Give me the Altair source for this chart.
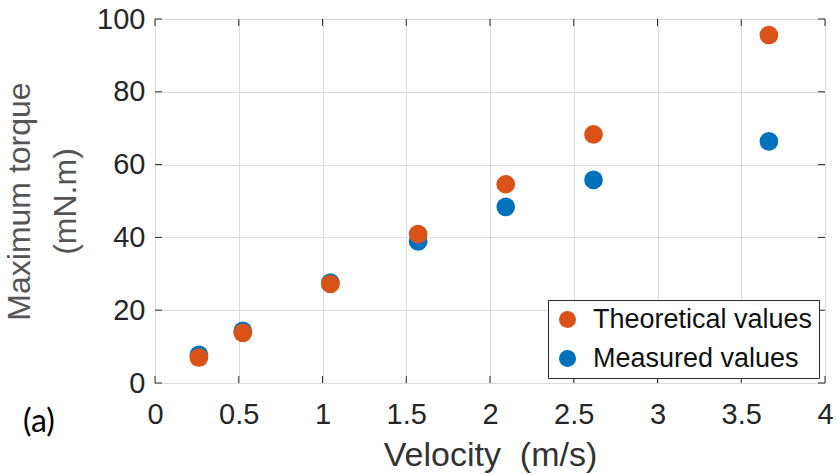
import altair as alt
import pandas as pd

velocity = [0.262, 0.524, 1.047, 1.571, 2.094, 2.618, 3.665]
theoretical = [7.0, 13.8, 27.2, 40.9, 54.6, 68.3, 95.6]
measured = [7.7, 14.3, 27.6, 38.9, 48.4, 55.8, 66.4]
series_names = ["Theoretical values", "Measured values"]
series_colors = ["#D95319", "#0072BD"]
x_ticks = [0, 0.5, 1, 1.5, 2, 2.5, 3, 3.5, 4]
y_ticks = [0, 20, 40, 60, 80, 100]

W, H = 670, 364
FRAME = "#2b2b2b"

rows = []
for v, m in zip(velocity, measured):
    rows.append({"v": v, "t": m, "series": series_names[1], "o": 0})
for v, t in zip(velocity, theoretical):
    rows.append({"v": v, "t": t, "series": series_names[0], "o": 1})
df = pd.DataFrame(rows)

xs = alt.Scale(domain=[0, 4], nice=False, zero=False)
ys = alt.Scale(domain=[0, 100], nice=False, zero=False)

points = alt.Chart(df).mark_circle(size=350, opacity=1).encode(
    x=alt.X("v:Q", scale=xs, axis=alt.Axis(
        values=x_ticks, format="~g", title="Velocity \u00a0(m/s)", grid=True, gridColor="#dcdcdc",
        domain=False, ticks=False, tickSize=0, labelPadding=17,
        labelFontSize=29, labelColor="#262626", labelFont="Liberation Sans",
        labelFlush=False, labelOverlap=False,
        titleFontSize=34, titleFont="Liberation Sans", titleFontWeight="normal",
        titleColor="#333333", titleX=335, titleY=82, titleBaseline="alphabetic",
        titleAnchor="middle")),
    y=alt.Y("t:Q", scale=ys, axis=alt.Axis(
        values=y_ticks, format="d", title=["Maximum torque", "(mN.m)"], grid=True, gridColor="#dcdcdc",
        domain=False, ticks=False, tickSize=0, labelPadding=10,
        labelFontSize=29, labelColor="#262626", labelFont="Liberation Sans",
        labelFlush=False, labelOverlap=False,
        titleFontSize=32, titleFont="Liberation Sans", titleFontWeight="normal",
        titleColor="#555555", titleX=-126, titleY=182, titleBaseline="alphabetic",
        titleAlign="center", titleAngle=270, titleLineHeight=46)),
    color=alt.Color("series:N", scale=alt.Scale(domain=series_names, range=series_colors),
                    legend=alt.Legend(title=None, orient="none", legendX=393, legendY=281,
                                      strokeColor=FRAME, fillColor="white", padding=6,
                                      rowPadding=11, labelFontSize=27, labelFont="Liberation Sans",
                                      labelColor="#111111", symbolType="circle", symbolSize=290,
                                      symbolStrokeWidth=0, labelOffset=12, cornerRadius=0,
                                      labelLimit=0)),
    order=alt.Order("o:Q"),
)

xt = pd.DataFrame({"v": x_ticks})
yt = pd.DataFrame({"t": y_ticks})
TL = 7
tick_b = alt.Chart(xt).mark_rule(color=FRAME, strokeWidth=1).encode(
    x=alt.X("v:Q", scale=xs), y=alt.value(H), y2=alt.value(H - TL))
tick_t = alt.Chart(xt).mark_rule(color=FRAME, strokeWidth=1).encode(
    x=alt.X("v:Q", scale=xs), y=alt.value(0), y2=alt.value(TL))
tick_l = alt.Chart(yt).mark_rule(color=FRAME, strokeWidth=1).encode(
    y=alt.Y("t:Q", scale=ys), x=alt.value(0), x2=alt.value(TL))
tick_r = alt.Chart(yt).mark_rule(color=FRAME, strokeWidth=1).encode(
    y=alt.Y("t:Q", scale=ys), x=alt.value(W), x2=alt.value(W - TL))

panel = alt.Chart(pd.DataFrame({"label": ["(a)"]})).mark_text(
    font="Lato", fontSize=32, color="#000000", align="left", baseline="alphabetic"
).encode(text="label:N", x=alt.value(-132), y=alt.value(49 + H))

chart = alt.layer(tick_b, tick_t, tick_l, tick_r, points, panel).properties(
    width=W, height=H,
    autosize=alt.AutoSizeParams(type="none"),
    padding={"left": 155, "top": 19, "right": 12, "bottom": 91},
).configure_view(stroke=FRAME, strokeWidth=1).configure(background="white")

chart.save("out.html", embed_options={"renderer": "svg", "actions": False})
